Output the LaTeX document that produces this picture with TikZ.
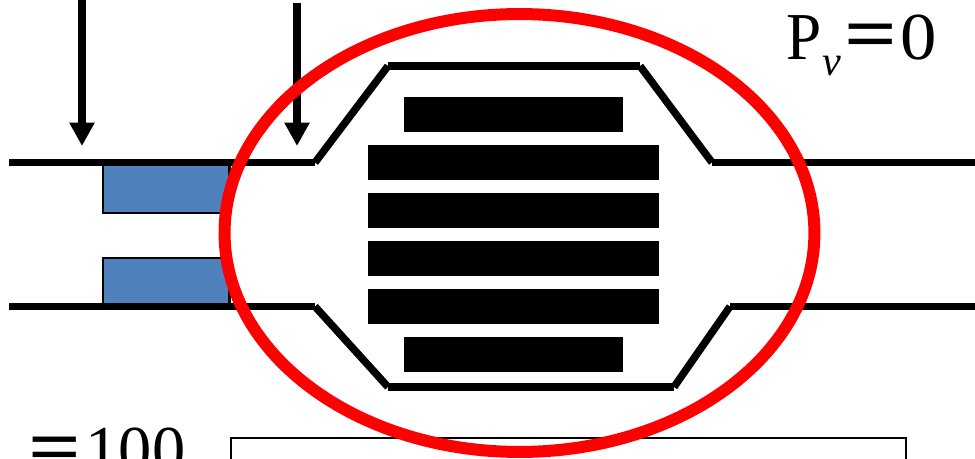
\documentclass[tikz,border=0pt]{standalone}
\usepackage{fontspec}
\usepackage{graphicx}
\setmainfont{Liberation Serif}
\usetikzlibrary{shapes.geometric,arrows.meta,positioning}
\definecolor{plugblue}{HTML}{4F81BD}
\definecolor{ringred}{RGB}{255,0,0}
\newcommand{\wideeq}{\scalebox{1.47}[1.2]{\bfseries =}}
\begin{document}
\begin{tikzpicture}[x=0.02cm,y=-0.02cm,font=\fontsize{36}{36}\selectfont]
\tikzset{
  wall/.style={line width=0.15cm,line cap=butt},
  plate/.style={fill=black,inner sep=0,minimum height=0.7cm},
  longplate/.style={plate,minimum width=5.82cm},
  shortplate/.style={plate,minimum width=4.38cm},
  plug/.style={draw=black,line width=0.05cm,fill=plugblue},
  flow/.style={line width=0.15cm,-{Triangle[length=0.47cm,width=0.48cm]}}
}
\clip (0,0) rectangle (975,459);
\draw[line width=0.03cm] (231,470) -- (231,438) -- (906,438) -- (906,470);
% plugs in the inlet
\draw[plug] (103,163) rectangle (229.5,213);
\draw[plug] (103,258) rectangle (229.5,305);
% upper wall
\coordinate (ua) at (9,162.5);
\coordinate (ub) at (315,162.5);
\coordinate (uc) at (388,66);
\coordinate (ud) at (640,66);
\coordinate (ue) at (712,162.5);
\coordinate (uf) at (975,162.5);
\draw[wall] (ua) -- (ub);
\draw[wall] (ub) -- (uc);
\draw[wall] (uc) -- (ud);
\draw[wall] (ud) -- (ue);
\draw[wall] (ue) -- (uf);
% lower wall
\coordinate (la) at (9,306.5);
\coordinate (lb) at (315,306.5);
\coordinate (lc) at (388,387);
\coordinate (ld) at (674,387);
\coordinate (le) at (730,306.5);
\coordinate (lf) at (975,306.5);
\draw[wall] (la) -- (lb);
\draw[wall] (lb) -- (lc);
\draw[wall] (lc) -- (ld);
\draw[wall] (ld) -- (le);
\draw[wall] (le) -- (lf);
% plates
\node[shortplate] (p1) at (513.5,114.5) {};
\node[longplate] (p2) at (513.5,162.5) {};
\node[longplate] (p3) at (513.5,210.5) {};
\node[longplate] (p4) at (513.5,258.5) {};
\node[longplate] (p5) at (513.5,306.5) {};
\node[shortplate] (p6) at (513.5,354.5) {};
% arrows
\coordinate (a1) at (82,-5);
\coordinate (a2) at (82,146);
\coordinate (b1) at (297,3);
\coordinate (b2) at (297,146);
\draw[flow] (a1) -- (a2);
\draw[flow] (b1) -- (b2);
% ring
\node[draw=ringred,line width=0.24cm,ellipse,inner sep=0,minimum width=11.8cm,minimum height=8.76cm] (ring) at (519.5,233) {};
% labels
\node[anchor=base west,inner sep=0] (pv) at (786,59.5) {\scalebox{1}[1.06]{P}\kern0.5pt\raisebox{-9pt}{\fontsize{24}{24}\selectfont\itshape v}\kern2pt\wideeq\kern1.7pt\scalebox{1.15}[1.06]{0}};
\node[anchor=base west,inner sep=0] (hundred) at (28,473) {\wideeq\kern2.5pt\scalebox{1.05}[1.06]{100}};
\end{tikzpicture}
\end{document}
